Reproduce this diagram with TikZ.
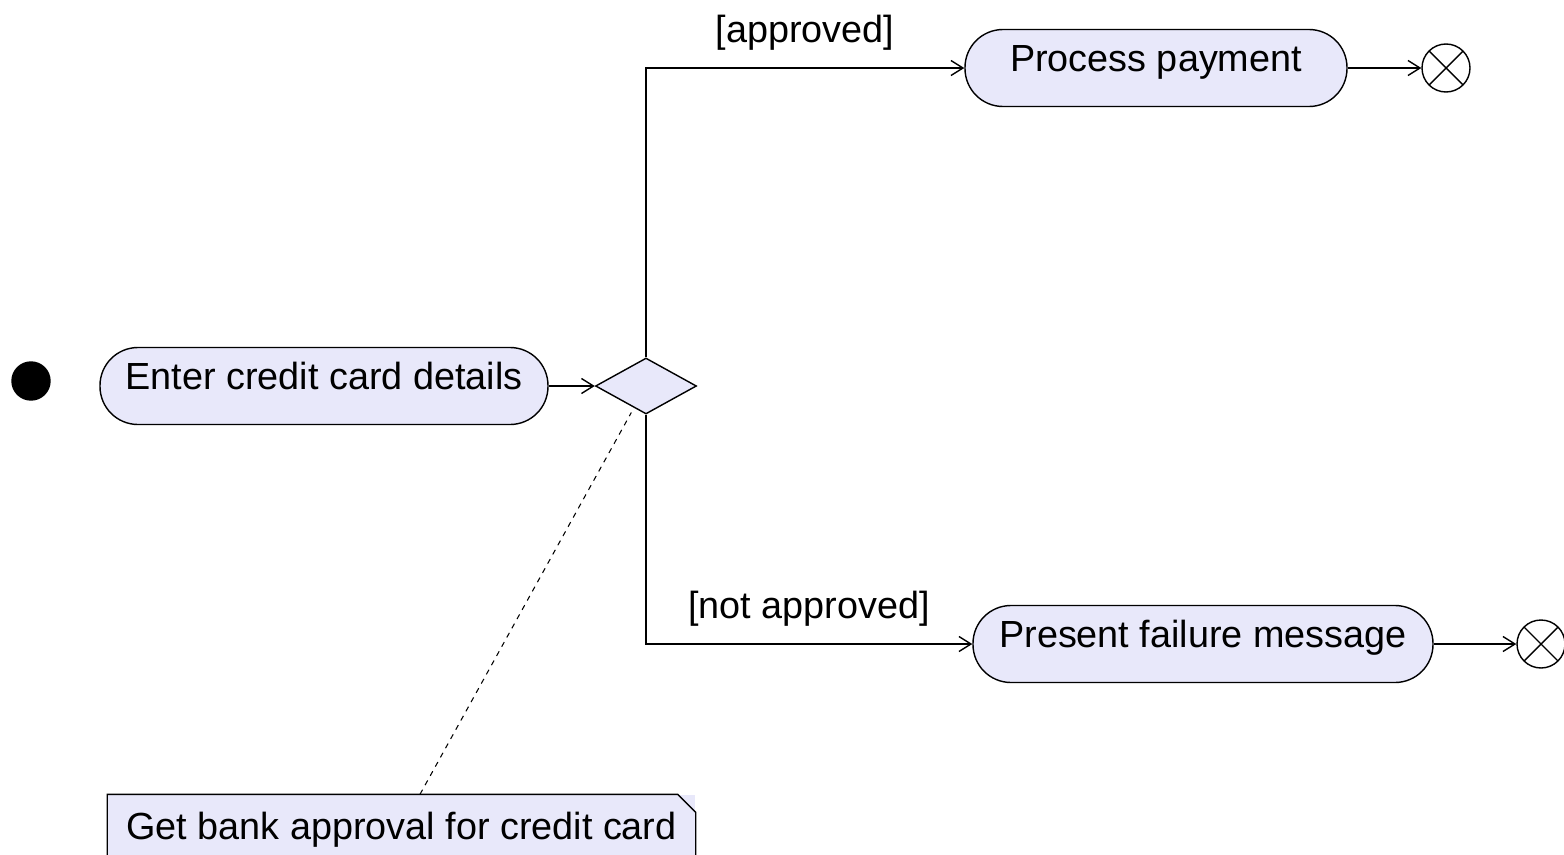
\documentclass[tikz,border=0pt]{standalone}
\usepackage{fontspec}
\setmainfont{Liberation Sans}
\usepackage{tikz}
\usetikzlibrary{arrows.meta, shapes.geometric, positioning}
\definecolor{actfill}{RGB}{232,232,250}
\tikzset{
    actnode/.style = {draw, rectangle, rounded corners=0.76cm, fill=actfill, minimum height=1.54cm,
      inner sep=0em, node distance=0em, text height=0.75em, text depth=0.3em,
      font=\fontsize{21.5}{25}\selectfont},
    decnode/.style = {draw, diamond, fill=actfill, inner sep=0em, minimum width=2.02cm,
      minimum height=1.12cm, node distance=0em},
    startnode/.style = {draw, fill=black, circle, minimum size=0.76cm, inner sep=0em, node distance=0em},
    endnode/.style = {draw, circle, fill=white, minimum size=0.96cm, inner sep=0em, node distance=0em,
      path picture={\draw (path picture bounding box.north west) -- (path picture bounding box.south east)
        (path picture bounding box.north east) -- (path picture bounding box.south west);}},
    notenode/.style = {fill=actfill, rectangle, minimum width=11.74cm, minimum height=1.4cm,
      inner sep=0em, node distance=0em, font=\fontsize{21.5}{25}\selectfont},
    guardnode/.style = {inner sep=0em, font=\fontsize{21.5}{25}\selectfont},
    connect/.style = {black, -{Straight Barb[length=0.24cm, width=0.3cm]}},
    tie/.style = {black, line width=0.6pt, dash pattern=on 3pt off 3pt}
}
\begin{document}
\begin{tikzpicture}[line width=0.8pt]
    \useasboundingbox (-6.48,-9.36) rectangle (24.8,7.72);

    \node [actnode, name=enter, minimum width=8.96cm] {Enter credit card details};
    \node [startnode, name=start, right of = enter, xshift=-5.86cm, yshift=0.1cm] {};
    \node [decnode, name=dec, right of = enter, xshift=6.44cm] {};
    \node [actnode, name=pay, right of = dec, xshift=10.2cm, yshift=6.36cm, minimum width=7.64cm] {Process payment};
    \node [actnode, name=fail, right of = dec, xshift=11.14cm, yshift=-5.16cm, minimum width=9.2cm] {Present failure message};
    \node [endnode, name=endpay, right of = pay, xshift=5.8cm] {};
    \node [endnode, name=endfail, right of = fail, xshift=6.76cm] {};
    \node [notenode, name=note, right of = enter, xshift=1.55cm, yshift=-8.88cm] {Get bank approval for credit card};

    % note outline with folded corner
    \draw (note.south west) -- (note.north west) -- ([xshift=-0.36cm]note.north east)
      -- ([yshift=-0.36cm]note.north east) -- (note.south east);

    \draw (enter) edge[connect] (dec);
    \draw[connect] (dec.north) |- node[guardnode, pos=0.75, above=0.34cm] {[approved]} (pay.west);
    \draw[connect] (dec.south) |- node[guardnode, pos=0.75, above=0.34cm] {[not approved]} (fail.west);
    \draw (pay) edge[connect] (endpay);
    \draw (fail) edge[connect] (endfail);

    \draw[tie, shorten >=3pt] ([xshift=0.37cm]note.north) -- (dec);
\end{tikzpicture}
\end{document}
